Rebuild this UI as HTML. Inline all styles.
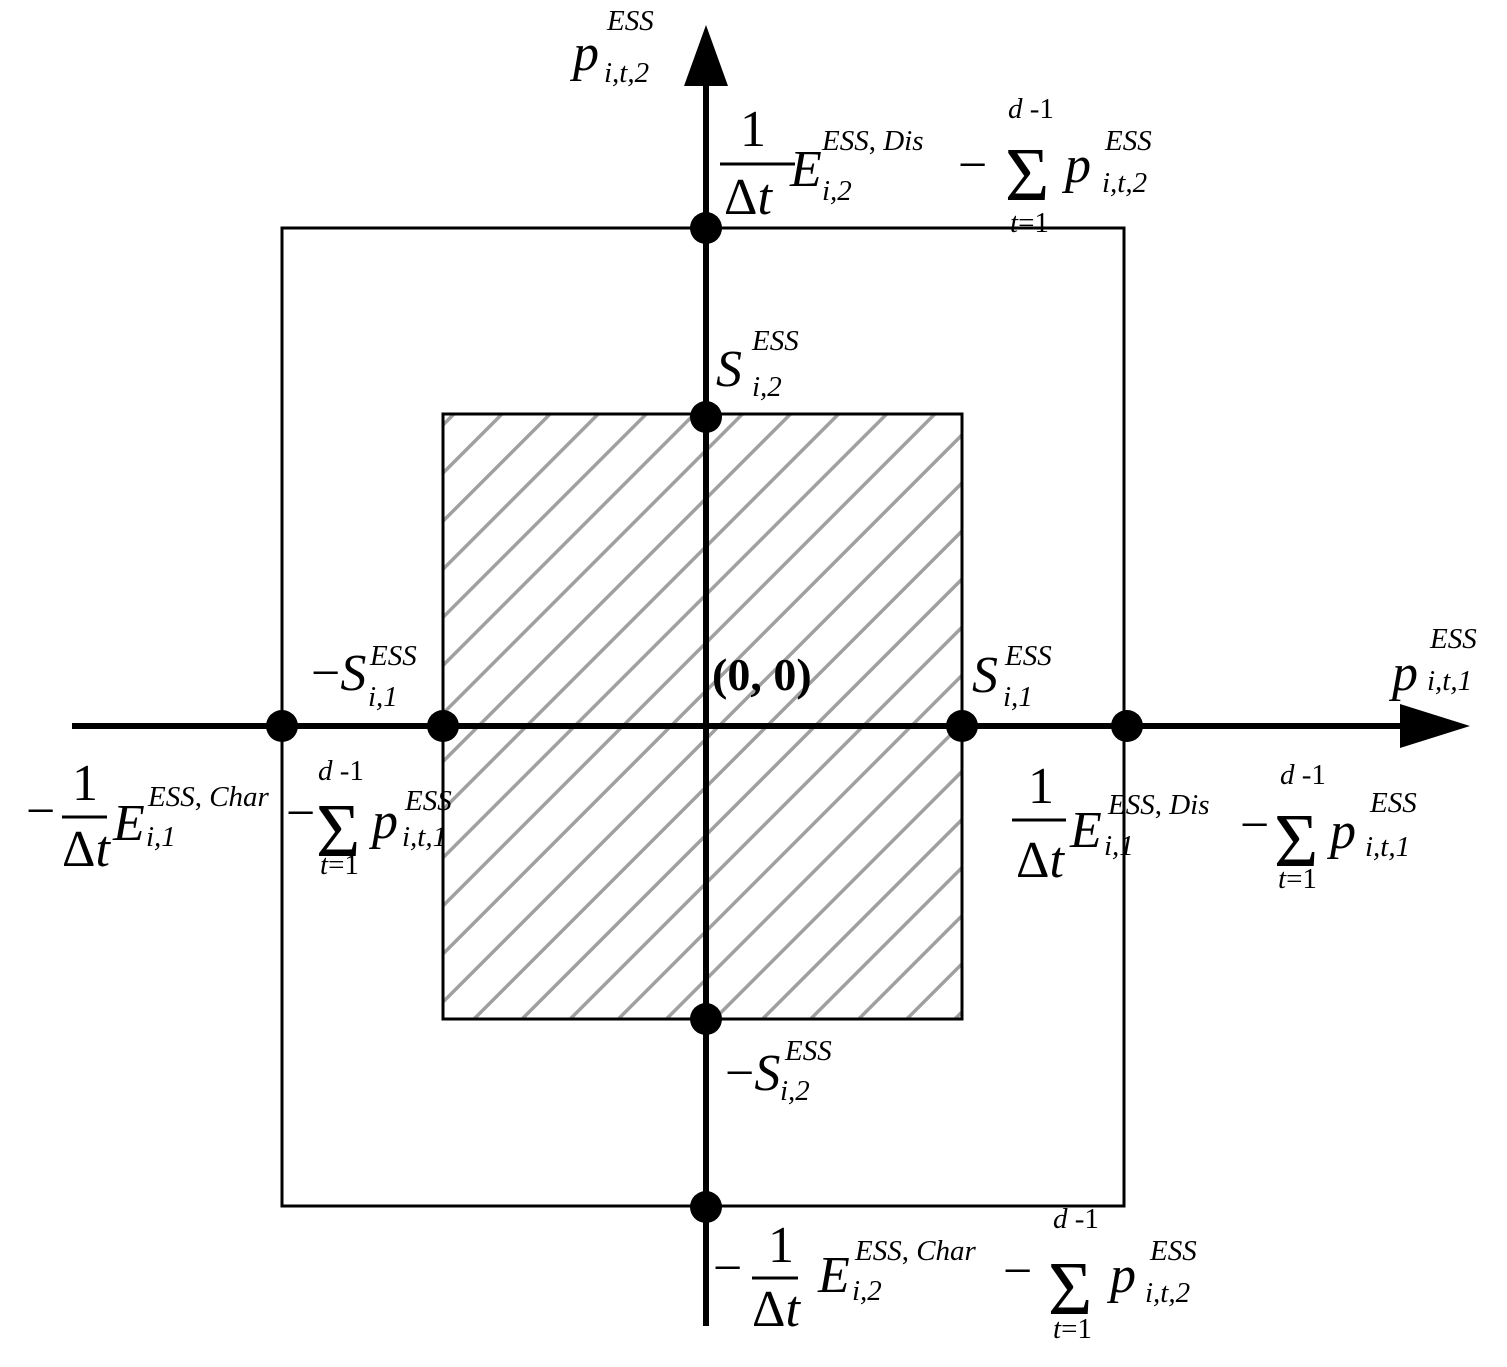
<!DOCTYPE html>
<html><head><meta charset="utf-8"><style>
html,body{margin:0;padding:0;background:#fff;}
svg{display:block;}
svg text, svg tspan{font-family:"Liberation Serif","DejaVu Serif",serif !important;fill:#000;}
.i{font-style:italic;}
.m{font-size:52px;}
.s{font-size:29px;font-style:italic;}
.g{font-size:76px;font-style:normal;}
</style></head><body>
<svg width="1507" height="1367" viewBox="0 0 1507 1367" xmlns="http://www.w3.org/2000/svg" font-family="Liberation Serif, serif">
<defs>
<pattern id="h" width="34" height="34" patternUnits="userSpaceOnUse" patternTransform="rotate(45)">
<rect width="34" height="34" fill="#fff"/>
<rect x="0" y="0" width="3.5" height="34" fill="#a0a0a0"/>
</pattern>
</defs>
<rect x="443" y="414" width="519" height="605" fill="url(#h)"/>
<rect x="443" y="414" width="519" height="605" fill="none" stroke="#000" stroke-width="3"/>
<rect x="282" y="228" width="842" height="978" fill="none" stroke="#000" stroke-width="3"/>
<line x1="706" y1="70" x2="706" y2="1326" stroke="#000" stroke-width="6"/>
<polygon points="706,25 684,86 728,86" fill="#000"/>
<line x1="72" y1="726" x2="1410" y2="726" stroke="#000" stroke-width="6"/>
<polygon points="1470,726 1400,704 1400,748" fill="#000"/>
<g fill="#000">
<circle cx="706" cy="228" r="16"/><circle cx="706" cy="417" r="16"/>
<circle cx="706" cy="1019" r="16"/><circle cx="706" cy="1207" r="16"/>
<circle cx="282" cy="726" r="16"/><circle cx="443" cy="726" r="16"/>
<circle cx="962" cy="726" r="16"/><circle cx="1127" cy="726" r="16"/>
</g>
<!-- top axis label -->
<text class="m i" x="573" y="70">p</text>
<text class="s" x="607" y="30">ESS</text>
<text class="s" x="604" y="82">i,t,2</text>
<!-- top right -->
<text class="m" x="740" y="146">1</text>
<line x1="720" y1="164" x2="795" y2="164" stroke="#000" stroke-width="3"/>
<text class="m" x="724" y="214">Δ<tspan class="i">t</tspan></text>
<text class="m i" x="790" y="186">E</text>
<text class="s" x="822" y="150">ESS<tspan font-style="normal">,</tspan> Dis</text>
<text class="s" x="822" y="200">i,2</text>
<text class="m" x="958" y="182">−</text>
<text class="g" x="1005" y="200">Σ</text>
<text class="s" x="1008" y="118">d <tspan font-style="normal">-1</tspan></text>
<text class="s" x="1010" y="232">t<tspan font-style="normal">=1</tspan></text>
<text class="m i" x="1065" y="182">p</text>
<text class="s" x="1105" y="150">ESS</text>
<text class="s" x="1102" y="192">i,t,2</text>
<!-- S i,2 -->
<text class="m i" x="716" y="386">S</text>
<text class="s" x="752" y="350">ESS</text>
<text class="s" x="752" y="396">i,2</text>
<!-- origin -->
<text x="712" y="690" font-size="46" font-weight="bold">(0, 0)</text>
<!-- -S i,1 -->
<text class="m" x="311" y="690">−<tspan class="i">S</tspan></text>
<text class="s" x="370" y="665">ESS</text>
<text class="s" x="368" y="706">i,1</text>
<!-- S i,1 -->
<text class="m i" x="972" y="692">S</text>
<text class="s" x="1005" y="665">ESS</text>
<text class="s" x="1003" y="706">i,1</text>
<!-- p i,t,1 axis -->
<text class="m i" x="1392" y="690">p</text>
<text class="s" x="1430" y="648">ESS</text>
<text class="s" x="1427" y="690">i,t,1</text>
<!-- left bottom -->
<text class="m" x="26" y="828">−</text>
<text class="m" x="72" y="800">1</text>
<line x1="62" y1="817" x2="107" y2="817" stroke="#000" stroke-width="3"/>
<text class="m" x="62" y="866">Δ<tspan class="i">t</tspan></text>
<text class="m i" x="113" y="840">E</text>
<text class="s" x="148" y="806">ESS<tspan font-style="normal">,</tspan> Char</text>
<text class="s" x="146" y="846">i,1</text>
<text class="m" x="286" y="830">−</text>
<text class="g" x="316" y="856" font-size="68">Σ</text>
<text class="s" x="318" y="780">d <tspan font-style="normal">-1</tspan></text>
<text class="s" x="320" y="874">t<tspan font-style="normal">=1</tspan></text>
<text class="m i" x="372" y="838">p</text>
<text class="s" x="405" y="810">ESS</text>
<text class="s" x="402" y="846">i,t,1</text>
<!-- right bottom -->
<text class="m" x="1028" y="803">1</text>
<line x1="1012" y1="820" x2="1066" y2="820" stroke="#000" stroke-width="3"/>
<text class="m" x="1016" y="877">Δ<tspan class="i">t</tspan></text>
<text class="m i" x="1070" y="847">E</text>
<text class="s" x="1108" y="814">ESS<tspan font-style="normal">,</tspan> Dis</text>
<text class="s" x="1104" y="855">i,1</text>
<text class="m" x="1240" y="842">−</text>
<text class="g" x="1274" y="866">Σ</text>
<text class="s" x="1280" y="784">d <tspan font-style="normal">-1</tspan></text>
<text class="s" x="1278" y="888">t<tspan font-style="normal">=1</tspan></text>
<text class="m i" x="1330" y="848">p</text>
<text class="s" x="1370" y="812">ESS</text>
<text class="s" x="1365" y="856">i,t,1</text>
<!-- -S i,2 -->
<text class="m" x="725" y="1090">−<tspan class="i">S</tspan></text>
<text class="s" x="785" y="1060">ESS</text>
<text class="s" x="780" y="1100">i,2</text>
<!-- bottom -->
<text class="m" x="713" y="1285">−</text>
<text class="m" x="768" y="1262">1</text>
<line x1="752" y1="1278" x2="798" y2="1278" stroke="#000" stroke-width="3"/>
<text class="m" x="752" y="1326">Δ<tspan class="i">t</tspan></text>
<text class="m i" x="818" y="1292">E</text>
<text class="s" x="855" y="1260">ESS<tspan font-style="normal">,</tspan> Char</text>
<text class="s" x="852" y="1300">i,2</text>
<text class="m" x="1003" y="1288">−</text>
<text class="g" x="1048" y="1314">Σ</text>
<text class="s" x="1053" y="1228">d <tspan font-style="normal">-1</tspan></text>
<text class="s" x="1053" y="1338">t<tspan font-style="normal">=1</tspan></text>
<text class="m i" x="1110" y="1292">p</text>
<text class="s" x="1150" y="1260">ESS</text>
<text class="s" x="1145" y="1302">i,t,2</text>
</svg>
</body></html>
